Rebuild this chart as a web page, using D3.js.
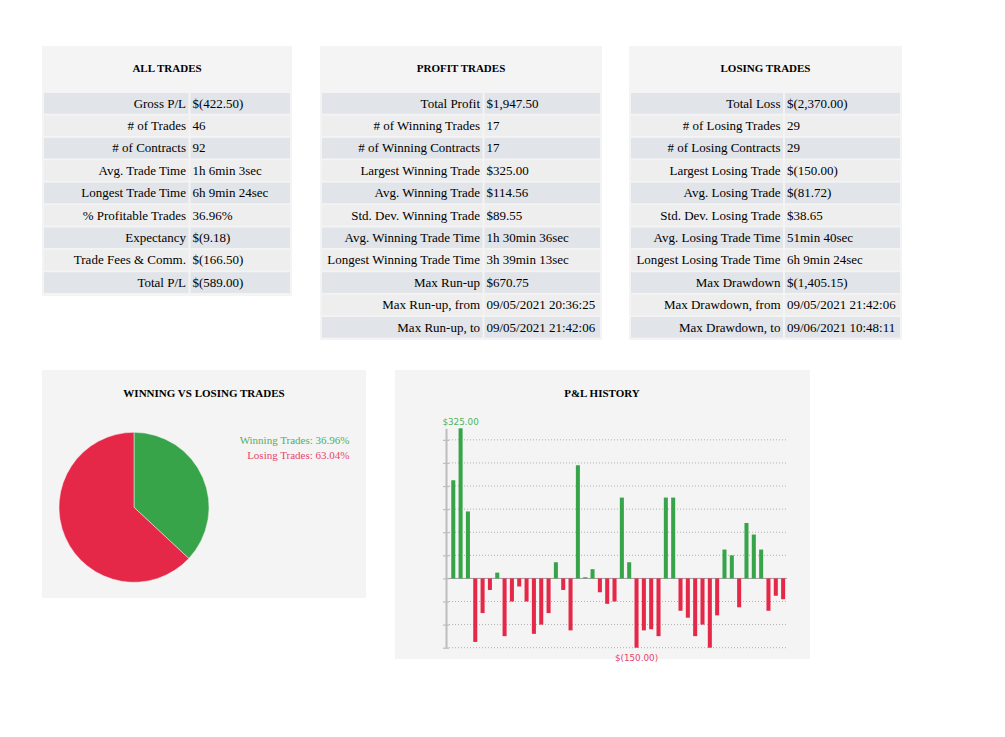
<!DOCTYPE html>
<html>
<head>
<meta charset="utf-8">
<script src="https://cdn.jsdelivr.net/npm/d3@7"></script>
<style>
  body { margin: 0; background: #fff; }
  svg text { font-family: "Liberation Serif", "Times New Roman", serif; }
</style>
</head>
<body>
<div id="chart-area"></div>
<script>
// table contents
var allLabels = ["Gross P/L", "# of Trades", "# of Contracts", "Avg. Trade Time", "Longest Trade Time",
    "% Profitable Trades", "Expectancy", "Trade Fees & Comm.", "Total P/L"];
var allValues = ["$(422.50)", "46", "92", "1h 6min 3sec", "6h 9min 24sec", "36.96%", "$(9.18)", "$(166.50)", "$(589.00)"];

var profitLabels = ["Total Profit", "# of Winning Trades", "# of Winning Contracts", "Largest Winning Trade",
    "Avg. Winning Trade", "Std. Dev. Winning Trade", "Avg. Winning Trade Time", "Longest Winning Trade Time",
    "Max Run-up", "Max Run-up, from", "Max Run-up, to"];
var profitValues = ["$1,947.50", "17", "17", "$325.00", "$114.56", "$89.55", "1h 30min 36sec", "3h 39min 13sec",
    "$670.75", "09/05/2021 20:36:25", "09/05/2021 21:42:06"];

var losingLabels = ["Total Loss", "# of Losing Trades", "# of Losing Contracts", "Largest Losing Trade",
    "Avg. Losing Trade", "Std. Dev. Losing Trade", "Avg. Losing Trade Time", "Longest Losing Trade Time",
    "Max Drawdown", "Max Drawdown, from", "Max Drawdown, to"];
var losingValues = ["$(2,370.00)", "29", "29", "$(150.00)", "$(81.72)", "$38.65", "51min 40sec", "6h 9min 24sec",
    "$(1,405.15)", "09/05/2021 21:42:06", "09/06/2021 10:48:11"];

// pie
var pieLabels = ["Winning Trades", "Losing Trades"];
var pieCounts = [17, 29];

// P&L per trade, in order
var tradePL = [212.5, 325, 145, -137.5, -75, -25, 12.5, -125, -50, -17.5, -50, -120, -100, -75, 35, -25,
    -112.5, 245, 2.5, 20, -30, -55, -50, 175, 35, -150, -112.5, -110, -125, 175, 175, -70, -85, -125,
    -100, -150, -80, 62.5, 50, -62.5, 120, 95, 62.5, -70, -37.5, -45];
var plTicks = [-150, -100, -50, 0, 50, 100, 150, 200, 250, 300];

var green = "#38a44a", red = "#e52748";
var panelBg = "#f4f4f4";

var svg = d3.select("#chart-area")
    .append("svg")
    .attr("width", 1005)
    .attr("height", 737);

function drawTable(box, title, labels, values) {
    var g = svg.append("g");
    g.append("rect")
        .attr("x", box.x).attr("y", box.y)
        .attr("width", box.w).attr("height", box.h)
        .attr("fill", panelBg);
    g.append("text")
        .attr("x", box.x + box.w / 2).attr("y", box.y + 26)
        .attr("text-anchor", "middle")
        .style("font-size", "11px").style("font-weight", "bold")
        .text(title);

    var rowH = 22.4, top = box.y + 47;
    var rows = g.selectAll("g.row")
        .data(labels)
        .enter().append("g")
        .attr("transform", function (d, i) { return "translate(0," + (top + i * rowH) + ")"; });
    rows.append("rect")
        .attr("x", box.x + 2).attr("width", box.split - box.x - 3)
        .attr("height", rowH - 1.7)
        .attr("fill", function (d, i) { return i % 2 ? "#eeeeee" : "#e1e4e8"; });
    rows.append("rect")
        .attr("x", box.split + 1).attr("width", box.x + box.w - box.split - 3)
        .attr("height", rowH - 1.7)
        .attr("fill", function (d, i) { return i % 2 ? "#eeeeee" : "#e1e4e8"; });
    rows.append("text")
        .attr("x", box.split - 3.5).attr("y", 14.7)
        .attr("text-anchor", "end")
        .style("font-size", "13px")
        .text(function (d) { return d; });
    rows.append("text")
        .attr("x", box.split + 3).attr("y", 14.7)
        .style("font-size", "13px")
        .text(function (d, i) { return values[i]; });
}

drawTable({x: 42, y: 46, w: 250, h: 250, split: 189.5}, "ALL TRADES", allLabels, allValues);
drawTable({x: 320, y: 46, w: 282, h: 294, split: 483.5}, "PROFIT TRADES", profitLabels, profitValues);
drawTable({x: 629, y: 46, w: 273, h: 294, split: 784}, "LOSING TRADES", losingLabels, losingValues);

// Winning vs losing pie
var pg = svg.append("g");
pg.append("rect").attr("x", 42).attr("y", 370).attr("width", 324).attr("height", 228).attr("fill", panelBg);
pg.append("text")
    .attr("x", 204).attr("y", 396.5)
    .attr("text-anchor", "middle")
    .style("font-size", "11px").style("font-weight", "bold")
    .text("WINNING VS LOSING TRADES");

var pie = d3.pie().sort(null);
var arc = d3.arc().innerRadius(0).outerRadius(75);
var total = d3.sum(pieCounts);
pg.append("g")
    .attr("transform", "translate(134,507.3)")
    .selectAll("path")
    .data(pie(pieCounts))
    .enter().append("path")
    .attr("d", arc)
    .attr("fill", function (d, i) { return i === 0 ? green : red; })
    .attr("stroke", panelBg)
    .attr("stroke-width", 0.5);

pg.selectAll("text.legend")
    .data(pieLabels)
    .enter().append("text")
    .attr("class", "legend")
    .attr("x", 349.5)
    .attr("y", function (d, i) { return 444 + i * 14.5; })
    .attr("text-anchor", "end")
    .style("font-size", "11px")
    .attr("fill", function (d, i) { return i === 0 ? "#4fb062" : "#e8446c"; })
    .text(function (d, i) { return d + ": " + (pieCounts[i] / total * 100).toFixed(2) + "%"; });

// P&L history
var hg = svg.append("g");
hg.append("rect").attr("x", 395).attr("y", 370).attr("width", 415).attr("height", 289).attr("fill", panelBg);
hg.append("text")
    .attr("x", 602).attr("y", 397)
    .attr("text-anchor", "middle")
    .style("font-size", "11px").style("font-weight", "bold")
    .text("P&L HISTORY");

var x = d3.scaleBand()
    .domain(d3.range(tradePL.length))
    .range([449.6, 786.8])
    .paddingInner(0.45)
    .paddingOuter(0.225);
var maxPL = d3.max(tradePL), minPL = d3.min(tradePL);
var y = d3.scaleLinear()
    .domain([minPL, maxPL])
    .range([647.7, 428.3]);

// grid
hg.selectAll("line.grid")
    .data(plTicks)
    .enter().append("line")
    .attr("x1", 446).attr("x2", 787)
    .attr("y1", function (d) { return y(d); })
    .attr("y2", function (d) { return y(d); })
    .attr("stroke", function (d) { return d === 0 ? "#9a9a9a" : "#b0b0b0"; })
    .attr("stroke-width", 1)
    .attr("stroke-dasharray", function (d) { return d === 0 ? null : "1,2"; });

// axis
var axis = hg.append("g")
    .attr("transform", "translate(446,0)")
    .call(d3.axisLeft(y).tickValues(plTicks).tickSizeOuter(0).tickFormat(""));
axis.select(".domain").attr("stroke", "#bdbdbd").attr("stroke-width", 2);
axis.selectAll(".tick line").attr("x1", -3).attr("x2", 3).attr("stroke", "#bdbdbd").attr("stroke-width", 1.2);

// bars
hg.selectAll("rect.bar")
    .data(tradePL)
    .enter().append("rect")
    .attr("class", "bar")
    .attr("x", function (d, i) { return x(i); })
    .attr("width", x.bandwidth())
    .attr("y", function (d) { return y(Math.max(0, d)); })
    .attr("height", function (d) { return Math.abs(y(d) - y(0)); })
    .attr("fill", function (d) { return d >= 0 ? green : red; });

// labels on max / min trade
var fmt = d3.format(",.2f");
var iMax = tradePL.indexOf(maxPL), iMin = tradePL.indexOf(minPL);
hg.append("text")
    .attr("x", x(iMax) + x.bandwidth() / 2).attr("y", y(maxPL) - 3.8)
    .attr("text-anchor", "middle")
    .style("font-family", "DejaVu Sans, sans-serif").style("font-size", "8.8px")
    .attr("fill", "#52b260")
    .text("$" + fmt(maxPL));
hg.append("text")
    .attr("x", x(iMin) + x.bandwidth() / 2).attr("y", y(minPL) + 13.3)
    .attr("text-anchor", "middle")
    .style("font-family", "DejaVu Sans, sans-serif").style("font-size", "8.8px")
    .attr("fill", "#e8446c")
    .text("$(" + fmt(-minPL) + ")");
</script>
</body>
</html>
